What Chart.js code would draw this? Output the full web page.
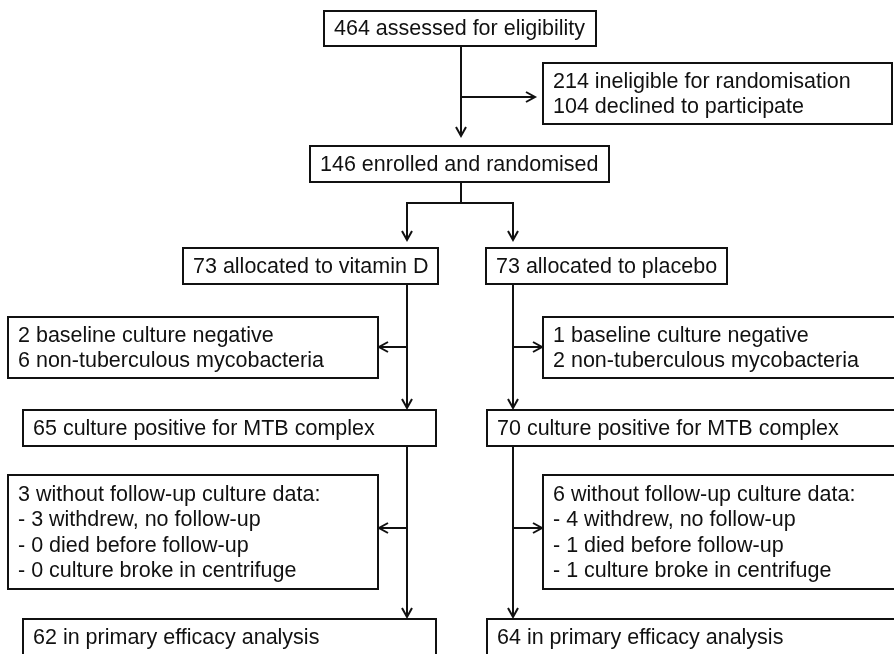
<!DOCTYPE html>
<html>
<head>
<meta charset="utf-8">
<script src="https://cdn.jsdelivr.net/npm/chart.js@4"></script>
<style>
  html, body { margin: 0; padding: 0; background: #fff; }
  #wrap { width: 894px; height: 654px; }
</style>
</head>
<body>
<div id="wrap"><canvas id="flow" width="894" height="654"></canvas></div>
<script>
// numbers
const arms = ["vitamin D", "placebo"];
const assessed = 464;
const excludedCounts = [214, 104];
const excludedReasons = ["ineligible for randomisation", "declined to participate"];
const randomised = 146;
const allocated = [73, 73];
const baselineNegative = [2, 1];
const nonTuberculous = [6, 2];
const culturePositive = [65, 70];
const noFollowUp = [3, 6];
const withdrew = [3, 4];
const died = [0, 1];
const cultureBroke = [0, 1];
const analysed = [62, 64];

// box layout in chart units (x 0-894, y 0-654 from the top): [left, right, top, bottom]
const topBoxes = {
  assessed: [324, 596, 11, 46],
  excluded: [543, 892, 63, 124],
  randomised: [310, 609, 146, 182]
};
const armBoxes = [
  { allocated: [183, 438, 248, 284], excluded: [8, 378, 317, 378], positive: [23, 436, 410, 446], lost: [8, 378, 475, 589], analysed: [23, 436, 619, 656] },
  { allocated: [486, 727, 248, 284], excluded: [543, 897, 317, 378], positive: [487, 897, 410, 446], lost: [543, 897, 475, 589], analysed: [487, 897, 619, 656] }
];
const trunkX = 461;
const armX = [407, 513];

function buildBoxes() {
  const list = [];
  list.push({ r: topBoxes.assessed, lines: [`${assessed} assessed for eligibility`] });
  list.push({ r: topBoxes.excluded, lines: excludedCounts.map((n, i) => `${n} ${excludedReasons[i]}`) });
  list.push({ r: topBoxes.randomised, lines: [`${randomised} enrolled and randomised`] });
  arms.forEach((arm, i) => {
    const b = armBoxes[i];
    list.push({ r: b.allocated, lines: [`${allocated[i]} allocated to ${arm}`] });
    list.push({ r: b.excluded, lines: [`${baselineNegative[i]} baseline culture negative`, `${nonTuberculous[i]} non-tuberculous mycobacteria`] });
    list.push({ r: b.positive, lines: [`${culturePositive[i]} culture positive for MTB complex`] });
    list.push({ r: b.lost, lines: [
      `${noFollowUp[i]} without follow-up culture data:`,
      `- ${withdrew[i]} withdrew, no follow-up`,
      `- ${died[i]} died before follow-up`,
      `- ${cultureBroke[i]} culture broke in centrifuge`
    ] });
    list.push({ r: b.analysed, lines: [`${analysed[i]} in primary efficacy analysis`] });
  });
  return list;
}

function buildConnectors() {
  const a = topBoxes.assessed, e = topBoxes.excluded, r = topBoxes.randomised;
  const sideY = (a[3] + r[2]) / 2 + 1;
  const branchY = 203;
  const list = [
    { pts: [[trunkX, a[3]], [trunkX, r[2] - 10]], arrow: true },
    { pts: [[trunkX, sideY], [e[0] - 8, sideY]], arrow: true },
    { pts: [[trunkX, r[3]], [trunkX, branchY]], arrow: false }
  ];
  arms.forEach((arm, i) => {
    const b = armBoxes[i];
    const x = armX[i];
    const sideEdge = i === 0 ? b.excluded[1] + 1 : b.excluded[0] - 1;
    list.push({ pts: [[trunkX, branchY], [x, branchY], [x, b.allocated[2] - 8]], arrow: true });
    list.push({ pts: [[x, b.allocated[3]], [x, b.positive[2] - 2]], arrow: true });
    list.push({ pts: [[x, 347], [sideEdge, 347]], arrow: true });
    list.push({ pts: [[x, b.positive[3]], [x, b.analysed[2] - 2]], arrow: true });
    list.push({ pts: [[x, 528], [i === 0 ? b.lost[1] + 1 : b.lost[0] - 1, 528]], arrow: true });
  });
  return list;
}

const flowPlugin = {
  id: "flow",
  afterDraw(chart) {
    const ctx = chart.ctx;
    const px = v => chart.scales.x.getPixelForValue(v);
    const py = v => chart.scales.y.getPixelForValue(v);
    ctx.save();
    ctx.strokeStyle = "#111";
    ctx.fillStyle = "#111";
    ctx.lineWidth = 2;
    ctx.lineJoin = "miter";

    // boxes and their text
    ctx.font = "21.5px 'Liberation Sans', Arial, sans-serif";
    ctx.textBaseline = "middle";
    ctx.textAlign = "left";
    const lineH = 25.5;
    buildBoxes().forEach(box => {
      const [l, rt, t, b] = box.r;
      ctx.strokeRect(px(l), py(t), px(rt) - px(l), py(b) - py(t));
      const mid = (py(t) + py(b)) / 2;
      const first = mid - (box.lines.length - 1) * lineH / 2;
      box.lines.forEach((txt, k) => ctx.fillText(txt, px(l) + 10, first + k * lineH + 1));
    });

    // connectors with open arrow heads
    buildConnectors().forEach(c => {
      ctx.beginPath();
      c.pts.forEach(([x, y], k) => k ? ctx.lineTo(px(x), py(y)) : ctx.moveTo(px(x), py(y)));
      ctx.stroke();
      if (c.arrow) {
        const [x1, y1] = c.pts[c.pts.length - 2];
        const [x2, y2] = c.pts[c.pts.length - 1];
        const dx = px(x2) - px(x1), dy = py(y2) - py(y1);
        const len = Math.hypot(dx, dy);
        const ux = dx / len, uy = dy / len;
        const tx = px(x2), ty = py(y2);
        ctx.beginPath();
        ctx.moveTo(tx - ux * 9 - uy * 5, ty - uy * 9 + ux * 5);
        ctx.lineTo(tx, ty);
        ctx.lineTo(tx - ux * 9 + uy * 5, ty - uy * 9 - ux * 5);
        ctx.stroke();
      }
    });
    ctx.restore();
  }
};

new Chart(document.getElementById("flow"), {
  type: "scatter",
  data: { datasets: [{ data: [], pointRadius: 0 }] },
  options: {
    responsive: false,
    animation: false,
    layout: { padding: 0 },
    plugins: { legend: { display: false }, tooltip: { enabled: false } },
    scales: {
      x: { type: "linear", min: 0, max: 894, display: false },
      y: { type: "linear", min: 0, max: 654, reverse: true, display: false }
    }
  },
  plugins: [flowPlugin]
});
</script>
</body>
</html>
